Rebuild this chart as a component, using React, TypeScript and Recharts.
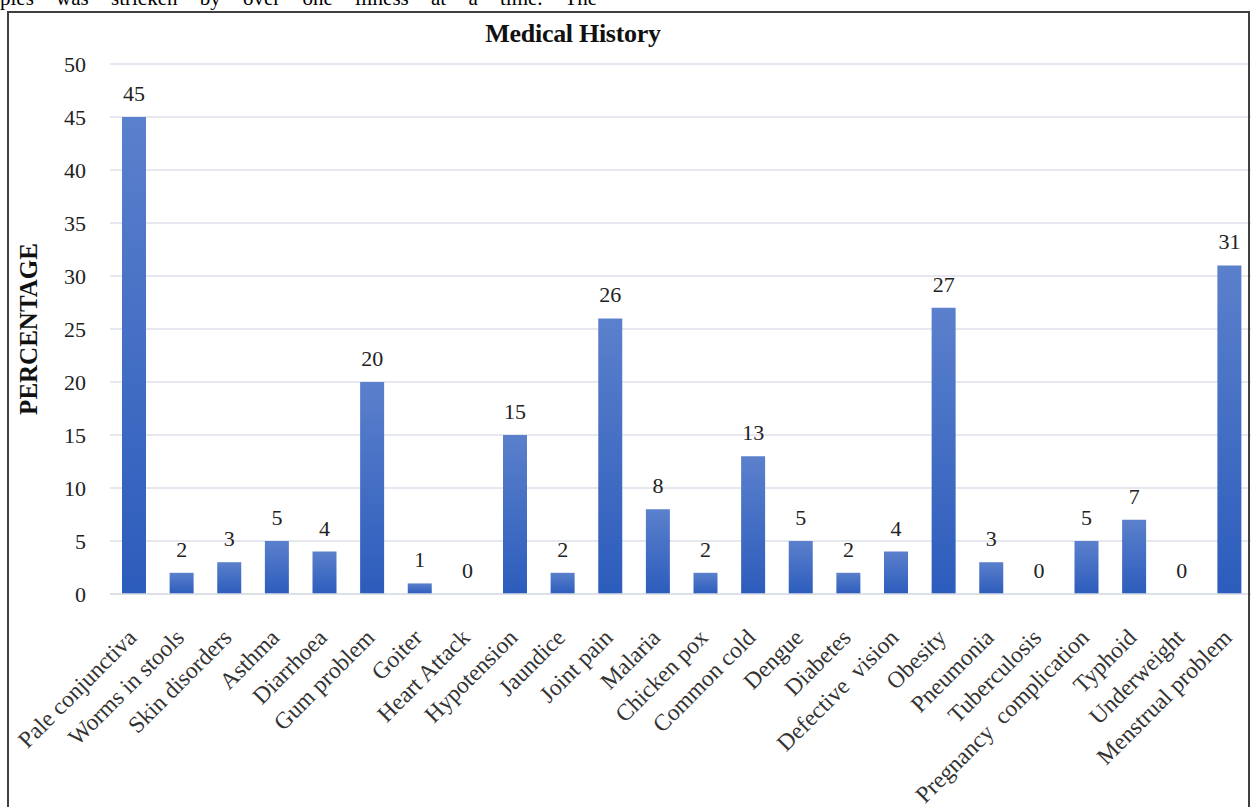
import React from 'react';
import { BarChart, Bar, XAxis, YAxis, CartesianGrid, LabelList, Label } from 'recharts';

const categories = [
  'Pale conjunctiva', 'Worms in stools', 'Skin disorders', 'Asthma', 'Diarrhoea',
  'Gum problem', 'Goiter', 'Heart Attack', 'Hypotension', 'Jaundice', 'Joint pain',
  'Malaria', 'Chicken pox', 'Common cold', 'Dengue', 'Diabetes', 'Defective  vision',
  'Obesity', 'Pneumonia', 'Tuberculosis', 'Pregnancy  complication', 'Typhoid',
  'Underweight', 'Menstrual problem',
];
const percentages = [45, 2, 3, 5, 4, 20, 1, 0, 15, 2, 26, 8, 2, 13, 5, 2, 4, 27, 3, 0, 5, 7, 0, 31];
const yTicks = [0, 5, 10, 15, 20, 25, 30, 35, 40, 45, 50];

const chartTitle = 'Medical History';
const yAxisTitle = 'PERCENTAGE';
const bodyText = 'ples was stricken by over one illness at a time. The';

const data = categories.map((name, i) => ({ name, value: percentages[i] }));

const SERIF = '"Liberation Serif", "Times New Roman", Times, serif';

const CategoryTick = (props: any) => {
  const { x, y, payload } = props;
  const ax = x + 4;
  const ay = y + 45;
  return (
    <text
      x={ax}
      y={ay}
      transform={`rotate(-45 ${ax} ${ay})`}
      textAnchor="end"
      fontSize={23.5}
      fontFamily={SERIF}
      fill="#333333"
      style={{ whiteSpace: 'pre' }}
    >
      {payload.value}
    </text>
  );
};

export default function App() {
  return (
    <div
      style={{
        position: 'fixed',
        left: 0,
        top: 0,
        width: 1251,
        height: 807,
        overflow: 'hidden',
        background: '#ffffff',
        fontFamily: SERIF,
      }}
    >
      <div
        style={{
          position: 'absolute',
          left: 0,
          top: -12,
          fontSize: 21,
          lineHeight: '21px',
          wordSpacing: 17,
          color: '#000',
          whiteSpace: 'nowrap',
        }}
      >
        {bodyText}
      </div>
      <div style={{ position: 'absolute', left: 0, top: 0 }}>
        <BarChart
          width={1253}
          height={807}
          data={data}
          margin={{ top: 64, right: 0, bottom: 0, left: 0 }}
        >
          <defs>
            <linearGradient id="barGrad" x1="0" y1="0" x2="0" y2="1">
              <stop offset="0%" stopColor="#5b80cc" />
              <stop offset="100%" stopColor="#2c5cbc" />
            </linearGradient>
          </defs>
          <CartesianGrid vertical={false} stroke="#dde2ea" strokeWidth={1.5} />
          <XAxis
            dataKey="name"
            interval={0}
            height={213}
            tickLine={false}
            tickSize={0}
            tickMargin={0}
            axisLine={{ stroke: '#d9dee6', strokeWidth: 1.5 }}
            tick={<CategoryTick />}
          />
          <YAxis
            width={110}
            domain={[0, 50]}
            ticks={yTicks}
            interval={0}
            axisLine={false}
            tickLine={false}
            tickSize={0}
            tickMargin={24}
            tick={{ fontSize: 22, fill: '#222222', fontFamily: SERIF }}
          >
            <Label
              value={yAxisTitle}
              angle={-90}
              position="insideLeft"
              offset={28}
              style={{
                textAnchor: 'middle',
                fontSize: 25,
                fontWeight: 'bold',
                fontFamily: SERIF,
                fill: '#111111',
              }}
            />
          </YAxis>
          <Bar
            dataKey="value"
            barSize={24}
            fill="url(#barGrad)"
            minPointSize={0.01}
            isAnimationActive={false}
          >
            <LabelList
              dataKey="value"
              position="top"
              offset={16}
              style={{ fontSize: 22, fill: '#222222', fontFamily: SERIF }}
            />
          </Bar>
        </BarChart>
      </div>
      <div
        style={{
          position: 'absolute',
          left: 0,
          width: 1146,
          top: 21,
          textAlign: 'center',
          fontSize: 26,
          lineHeight: '25px',
          fontWeight: 'bold',
          color: '#111',
          letterSpacing: -0.3,
        }}
      >
        {chartTitle}
      </div>
      <div
        style={{
          position: 'absolute',
          left: 7,
          top: 11,
          width: 1243,
          height: 830,
          boxSizing: 'border-box',
          border: '2px solid #404040',
          pointerEvents: 'none',
        }}
      />
    </div>
  );
}
